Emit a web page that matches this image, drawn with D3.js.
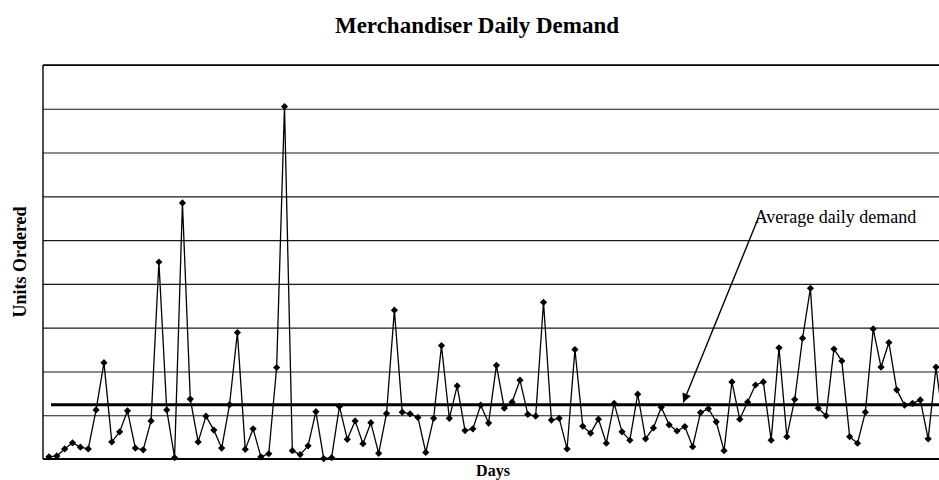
<!DOCTYPE html>
<html>
<head>
<meta charset="utf-8">
<script src="https://cdn.jsdelivr.net/npm/d3@7"></script>
<style>
  html, body { margin: 0; padding: 0; background: #fff; }
  svg { display: block; }
  text { font-family: "Liberation Serif", "Times New Roman", serif; fill: #000; }
</style>
</head>
<body>
<div id="chart"></div>
<script>
// ---- data ----
const title = "Merchandiser Daily Demand";
const yLabel = "Units Ordered";
const xLabel = "Days";
const days = d3.range(1, 116);
const demand = [
  0.5, 0.7, 2.3, 3.7, 2.7, 2.3, 11.2, 22, 3.9, 6.2,
  11, 2.5, 2.1, 8.7, 45, 11.2, 0.3, 58.5, 13.7, 3.9,
  9.8, 6.6, 2.5, 12.4, 28.9, 2.2, 6.9, 0.5, 1.2, 20.9,
  80.5, 1.9, 1, 3, 10.8, 0.1, 0.3, 12, 4.5, 8.7,
  3.5, 8.3, 1.3, 10.4, 34, 10.7, 10.3, 9.5, 1.5, 9.3,
  25.9, 9.3, 16.7, 6.5, 6.9, 12.3, 8.2, 21.4, 11.6, 13,
  18, 10.2, 9.8, 35.8, 8.9, 9.3, 2.3, 25, 7.5, 5.9,
  9.1, 3.6, 12.7, 6.2, 4.3, 14.8, 4.6, 7.1, 11.8, 7.8,
  6.4, 7.4, 2.8, 10.6, 11.5, 8.5, 1.9, 17.6, 9.1, 13,
  16.9, 17.6, 4.3, 25.4, 5.1, 13.6, 27.6, 39, 11.6, 9.9,
  25.1, 22.4, 5.1, 3.6, 10.7, 29.7, 21, 26.6, 15.8, 12.3,
  12.7, 13.5, 4.6, 21, 7.5
];
const gridValues = [0, 10, 20, 30, 40, 50, 60, 70, 80, 90];
const averageDemand = 12.4;
const annotationText = "Average daily demand";
const annotationLabel = { day: 90.9, value: 53.9 };
const arrowFrom = { day: 91.4, value: 55.2 };
const arrowTo = { day: 81.8, value: 12.9 };

// ---- layout ----
const W = 939, H = 480;
const plot = { left: 43, top: 65, right: 960, bottom: 459 };

const svg = d3.select("#chart").append("svg")
  .attr("width", W).attr("height", H);
svg.append("rect").attr("width", W).attr("height", H).attr("fill", "#fff");

const x = d3.scaleLinear().domain([1, 114]).range([49, 936]);
const y = d3.scaleLinear().domain([0, 90]).range([plot.bottom, plot.top]);

// gridlines via axis
const gridAxis = d3.axisLeft(y).tickValues(gridValues)
  .tickSize(-(plot.right - plot.left)).tickFormat("");
const g = svg.append("g").attr("transform", `translate(${plot.left},0)`).call(gridAxis);
g.select(".domain").remove();
g.selectAll(".tick line").attr("stroke", "#1a1a1a").attr("stroke-width", 1.1);

// left border and bottom axis
svg.append("line").attr("x1", plot.left).attr("x2", plot.left)
  .attr("y1", y(90)).attr("y2", y(0)).attr("stroke", "#000").attr("stroke-width", 1.4);
svg.append("line").attr("x1", plot.left).attr("x2", plot.right)
  .attr("y1", y(0)).attr("y2", y(0)).attr("stroke", "#000").attr("stroke-width", 1.8);
svg.append("line").attr("x1", plot.left).attr("x2", plot.right)
  .attr("y1", y(90)).attr("y2", y(90)).attr("stroke", "#000").attr("stroke-width", 1.4);

// average line
svg.append("line")
  .attr("x1", x(1) + 2).attr("x2", plot.right)
  .attr("y1", y(averageDemand)).attr("y2", y(averageDemand))
  .attr("stroke", "#000").attr("stroke-width", 3);

// series line
const line = d3.line().x((d, i) => x(days[i])).y(d => y(d));
svg.append("path").datum(demand)
  .attr("d", line).attr("fill", "none")
  .attr("stroke", "#000").attr("stroke-width", 1.3)
  .attr("stroke-linejoin", "round");

// diamond markers
const sym = d3.symbol().type(d3.symbolSquare).size(26);
svg.append("g").selectAll("path").data(demand).join("path")
  .attr("d", sym)
  .attr("transform", (d, i) => `translate(${x(days[i])},${y(d)}) rotate(45)`)
  .attr("fill", "#000");

// annotation
svg.append("text")
  .attr("x", x(annotationLabel.day)).attr("y", y(annotationLabel.value))
  .attr("font-size", 18).text(annotationText);

const defs = svg.append("defs");
defs.append("marker").attr("id", "arrowhead")
  .attr("viewBox", "0 0 10 10").attr("refX", 10).attr("refY", 5)
  .attr("markerWidth", 14).attr("markerHeight", 9)
  .attr("markerUnits", "userSpaceOnUse")
  .attr("orient", "auto")
  .append("path").attr("d", "M0,0 L10,5 L0,10 Z").attr("fill", "#000");

svg.append("line")
  .attr("x1", x(arrowFrom.day)).attr("y1", y(arrowFrom.value))
  .attr("x2", x(arrowTo.day)).attr("y2", y(arrowTo.value))
  .attr("stroke", "#000").attr("stroke-width", 1.4)
  .attr("marker-end", "url(#arrowhead)");

// titles
svg.append("text").attr("x", 477).attr("y", 33)
  .attr("text-anchor", "middle").attr("font-size", 23).attr("font-weight", "bold")
  .text(title);
svg.append("text")
  .attr("transform", "translate(26,262) rotate(-90)")
  .attr("text-anchor", "middle").attr("font-size", 18).attr("font-weight", "bold")
  .text(yLabel);
svg.append("text").attr("x", 493).attr("y", 476)
  .attr("text-anchor", "middle").attr("font-size", 16).attr("font-weight", "bold")
  .text(xLabel);
</script>
</body>
</html>
